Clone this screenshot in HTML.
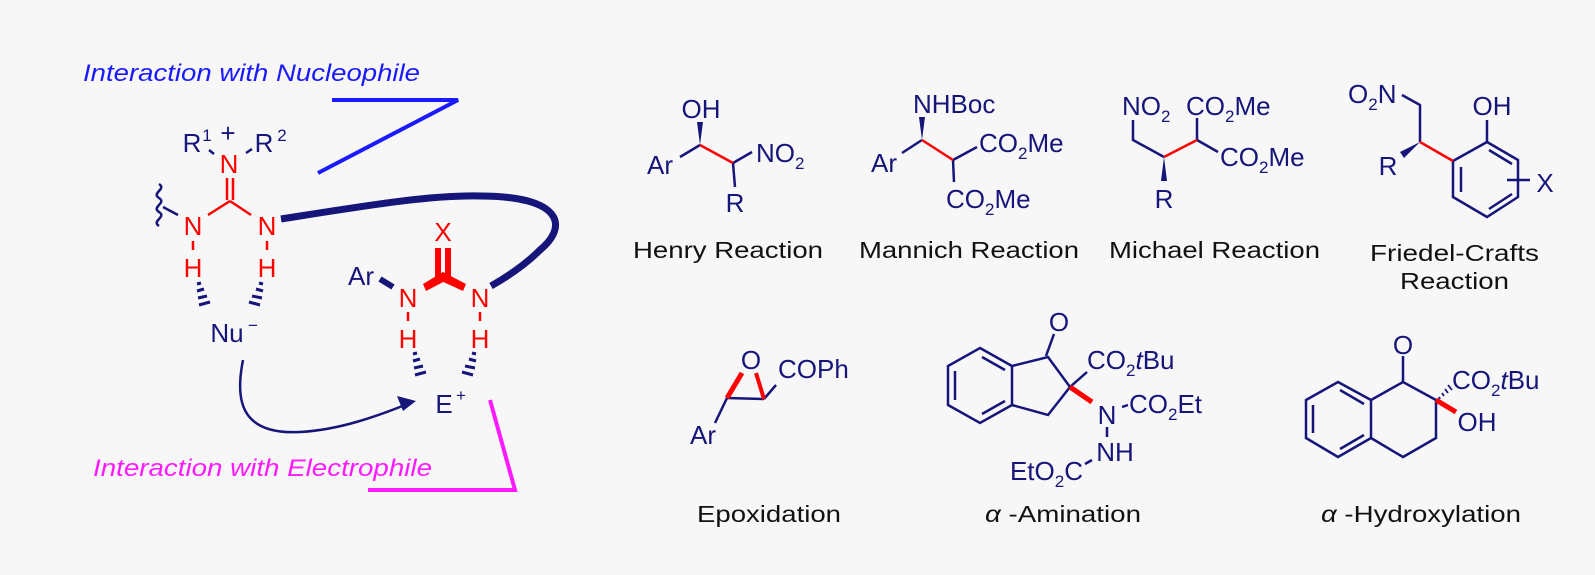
<!DOCTYPE html>
<html><head><meta charset="utf-8"><style>
html,body{margin:0;padding:0;background:#f7f7f7}
svg{display:block}
text{font-family:"Liberation Sans",sans-serif}
.n{fill:#15157a;font-size:26px}
.r{fill:#ff0000;font-size:26px}
.l{fill:#111;font-size:23px}
.s{font-size:17px}
</style></head><body>
<svg width="1595" height="575" viewBox="0 0 1595 575" xmlns="http://www.w3.org/2000/svg">
<rect width="1595" height="575" fill="#f7f7f7"/>
<g stroke-linecap="butt" fill="none">
<polyline points="332,100 458,100 318,173" stroke="#1a1aff" stroke-width="4"/>
<polyline points="490,400 515,490 368,490" stroke="#ff1aff" stroke-width="4"/>
<path d="M281,219 C370,205 430,195 480,196 C560,196 570,225 540,250 C525,265 505,278 491,286" stroke="#15157a" stroke-width="7"/>
<path d="M159,184 c8,5 -8,9 0,14 c8,5 -8,9 0,14 c8,5 -8,9 0,14" stroke="#15157a" stroke-width="2.5"/>
<line x1="163" y1="207" x2="178" y2="215" stroke="#15157a" stroke-width="2.5"/>
<line x1="209" y1="150" x2="214" y2="154" stroke="#15157a" stroke-width="2.5"/>
<line x1="246" y1="153" x2="252" y2="149" stroke="#15157a" stroke-width="2.5"/>
<g stroke="#ff0000" stroke-width="2.5">
<line x1="227" y1="178" x2="227" y2="200"/><line x1="233" y1="178" x2="233" y2="200"/>
<line x1="230" y1="201" x2="208" y2="215"/><line x1="230" y1="201" x2="251" y2="215"/>
<line x1="193" y1="241" x2="193" y2="250"/><line x1="267" y1="241" x2="267" y2="250"/>
<line x1="408" y1="312" x2="408" y2="321"/><line x1="480" y1="312" x2="480" y2="321"/>
</g>
<g stroke="#15157a" stroke-width="3">
<line x1="197" y1="284" x2="201" y2="283"/><line x1="197" y1="291" x2="204" y2="289"/><line x1="198" y1="298" x2="207" y2="296"/><line x1="199" y1="305" x2="210" y2="302"/>
<line x1="259" y1="283" x2="263" y2="284"/><line x1="256" y1="289" x2="263" y2="291"/><line x1="252" y1="296" x2="262" y2="298"/><line x1="249" y1="302" x2="260" y2="305"/>
<line x1="413" y1="354" x2="417" y2="353"/><line x1="413" y1="361" x2="420" y2="359"/><line x1="414" y1="368" x2="423" y2="366"/><line x1="415" y1="375" x2="426" y2="372"/>
<line x1="472" y1="353" x2="476" y2="354"/><line x1="469" y1="359" x2="476" y2="361"/><line x1="465" y1="366" x2="475" y2="368"/><line x1="462" y1="372" x2="473" y2="375"/>
</g>
<g stroke="#ff0000" stroke-width="6">
<line x1="438" y1="248" x2="438" y2="277"/><line x1="448" y1="248" x2="448" y2="277"/>
</g>
<polygon points="443,272 447,280 426,291 423,284" fill="#ff0000"/>
<polygon points="443,272 439,280 463,291 466,284" fill="#ff0000"/>
<line x1="380" y1="279" x2="393" y2="287" stroke="#15157a" stroke-width="6"/>
<path d="M243,360 C235,400 240,435 300,432 C340,430 380,415 405,405" stroke="#15157a" stroke-width="2.5"/>
<polygon points="416,401 397,396 403,411" fill="#15157a"/>
</g>
<text x="83" y="81" font-size="24" font-style="italic" fill="#1a1aff" textLength="337" lengthAdjust="spacingAndGlyphs">Interaction with Nucleophile</text>
<text x="93" y="476" font-size="24" font-style="italic" fill="#ff1aff" textLength="339" lengthAdjust="spacingAndGlyphs">Interaction with Electrophile</text>
<text class="n" x="192" y="152" text-anchor="middle">R</text><text class="n s" x="207" y="141" text-anchor="middle">1</text><text class="n" x="228" y="142" text-anchor="middle">+</text>
<text class="n" x="264" y="152" text-anchor="middle">R</text><text class="n s" x="282" y="141" text-anchor="middle">2</text>
<text class="r" x="229" y="173" text-anchor="middle">N</text>
<text class="r" x="193" y="235" text-anchor="middle">N</text><text class="r" x="267" y="235" text-anchor="middle">N</text>
<text class="r" x="193" y="277" text-anchor="middle">H</text><text class="r" x="267" y="277" text-anchor="middle">H</text>
<text class="n" x="227" y="342" text-anchor="middle">Nu</text><text class="n s" x="253" y="331" text-anchor="middle">−</text>
<text class="r" x="443" y="241" text-anchor="middle">X</text>
<text class="n" x="361" y="285" text-anchor="middle">Ar</text>
<text class="r" x="408" y="307" text-anchor="middle">N</text><text class="r" x="480" y="307" text-anchor="middle">N</text>
<text class="r" x="408" y="348" text-anchor="middle">H</text><text class="r" x="480" y="348" text-anchor="middle">H</text>
<text class="n" x="444" y="413" text-anchor="middle">E</text><text class="n s" x="461" y="401" text-anchor="middle">+</text>

<g stroke="#15157a" stroke-width="2.5" fill="none">
<polyline points="680,157 700,145"/><polyline points="733,163 752,152"/><line x1="733" y1="163" x2="735" y2="187"/>
<polyline points="902,153 922,140"/><polyline points="953,160 977,147"/><line x1="953" y1="160" x2="954" y2="182"/>
<polyline points="1133,120 1133,140 1164,157"/><polyline points="1197,140 1197,118"/><polyline points="1197,140 1218,152"/>
<polyline points="1402,95 1420,105 1420,142"/>
<polygon points="1453,161 1487,142 1518,160 1518,197 1487,217 1453,197"/>
<line x1="1461" y1="167" x2="1461" y2="192"/><line x1="1489" y1="150" x2="1512" y2="164"/><line x1="1489" y1="209" x2="1512" y2="194"/>
<line x1="1487" y1="142" x2="1487" y2="120"/><line x1="1507" y1="180" x2="1530" y2="180"/>
<line x1="727" y1="398" x2="764" y2="399"/><line x1="764" y1="399" x2="776" y2="385"/><line x1="727" y1="398" x2="715" y2="423"/>
<polygon points="980,348 1012,366 1012,405 980,423 948,405 948,366"/>
<line x1="955" y1="371" x2="955" y2="400"/><line x1="982" y1="357" x2="1005" y2="370"/><line x1="982" y1="414" x2="1005" y2="401"/>
<polyline points="1012,366 1048,357 1070,387 1048,415 1012,405"/>
<line x1="1046" y1="356" x2="1054" y2="334"/>
<line x1="1070" y1="387" x2="1087" y2="372"/>
<line x1="1122" y1="407" x2="1128" y2="405"/>
<line x1="1107" y1="427" x2="1107" y2="437"/>
<line x1="1085" y1="464" x2="1092" y2="460"/>
<polygon points="1338,382 1371,400 1371,438 1338,457 1306,438 1306,400"/>
<line x1="1313" y1="405" x2="1313" y2="433"/><line x1="1340" y1="390" x2="1364" y2="404"/><line x1="1340" y1="449" x2="1364" y2="435"/>
<polyline points="1371,400 1403,382 1436,400 1436,438 1403,457 1371,438"/>
<line x1="1403" y1="382" x2="1403" y2="356"/>
</g>
<g stroke="#ff0000" fill="none">
<line x1="700" y1="145" x2="733" y2="163" stroke-width="2.5"/>
<line x1="922" y1="140" x2="953" y2="160" stroke-width="2.5"/>
<line x1="1164" y1="157" x2="1197" y2="140" stroke-width="2.5"/>
<line x1="1420" y1="142" x2="1453" y2="161" stroke-width="2.5"/>
<line x1="727" y1="398" x2="742" y2="373" stroke-width="5"/>
<line x1="764" y1="399" x2="756" y2="373" stroke-width="4"/>
<line x1="1070" y1="387" x2="1092" y2="402" stroke-width="5"/>
<line x1="1436" y1="400" x2="1456" y2="412" stroke-width="5"/>
</g>
<g fill="#15157a">
<polygon points="700,145 697,122 703,122"/>
<polygon points="922,140 919,117 925,117"/>
<polygon points="1164,157 1161,181 1167,181"/>
<polygon points="1420,142 1400,152 1404,158"/>
</g>
<g stroke="#15157a" stroke-width="1.8">
<line x1="1439" y1="397" x2="1440" y2="399"/><line x1="1442" y1="393" x2="1444" y2="396"/><line x1="1445" y1="389" x2="1448" y2="393"/><line x1="1448" y1="385" x2="1452" y2="390"/>
</g>
<text class="n" x="701" y="118" text-anchor="middle">OH</text>
<text class="n" x="660" y="174" text-anchor="middle">Ar</text>
<text class="n" x="756" y="162">NO<tspan class="s" dy="7">2</tspan></text>
<text class="n" x="735" y="212" text-anchor="middle">R</text>
<text class="n" x="913" y="113">NHBoc</text>
<text class="n" x="884" y="172" text-anchor="middle">Ar</text>
<text class="n" x="979" y="152">CO<tspan class="s" dy="7">2</tspan><tspan dy="-7">Me</tspan></text>
<text class="n" x="946" y="208">CO<tspan class="s" dy="7">2</tspan><tspan dy="-7">Me</tspan></text>
<text class="n" x="1122" y="115">NO<tspan class="s" dy="7">2</tspan></text>
<text class="n" x="1186" y="115">CO<tspan class="s" dy="7">2</tspan><tspan dy="-7">Me</tspan></text>
<text class="n" x="1220" y="166">CO<tspan class="s" dy="7">2</tspan><tspan dy="-7">Me</tspan></text>
<text class="n" x="1164" y="208" text-anchor="middle">R</text>
<text class="n" x="1348" y="103">O<tspan class="s" dy="7">2</tspan><tspan dy="-7">N</tspan></text>
<text class="n" x="1492" y="115" text-anchor="middle">OH</text>
<text class="n" x="1388" y="175" text-anchor="middle">R</text>
<text class="n" x="1545" y="192" text-anchor="middle">X</text>
<text class="n" x="751" y="369" text-anchor="middle">O</text>
<text class="n" x="778" y="378">COPh</text>
<text class="n" x="703" y="444" text-anchor="middle">Ar</text>
<text class="n" x="1059" y="331" text-anchor="middle">O</text>
<text class="n" x="1087" y="369">CO<tspan class="s" dy="7">2</tspan><tspan dy="-7" font-style="italic">t</tspan>Bu</text>
<text class="n" x="1107" y="424" text-anchor="middle">N</text>
<text class="n" x="1129" y="413">CO<tspan class="s" dy="7">2</tspan><tspan dy="-7">Et</tspan></text>
<text class="n" x="1115" y="461" text-anchor="middle">NH</text>
<text class="n" x="1083" y="480" text-anchor="end">EtO<tspan class="s" dy="7">2</tspan><tspan dy="-7">C</tspan></text>
<text class="n" x="1403" y="354" text-anchor="middle">O</text>
<text class="n" x="1452" y="389">CO<tspan class="s" dy="7">2</tspan><tspan dy="-7" font-style="italic">t</tspan>Bu</text>
<text class="n" x="1477" y="431" text-anchor="middle">OH</text>
<text class="l" x="633" y="258" textLength="190" lengthAdjust="spacingAndGlyphs">Henry Reaction</text>
<text class="l" x="859" y="258" textLength="220" lengthAdjust="spacingAndGlyphs">Mannich Reaction</text>
<text class="l" x="1109" y="258" textLength="211" lengthAdjust="spacingAndGlyphs">Michael Reaction</text>
<text class="l" x="1370" y="261" textLength="169" lengthAdjust="spacingAndGlyphs">Friedel-Crafts</text>
<text class="l" x="1400" y="289" textLength="109" lengthAdjust="spacingAndGlyphs">Reaction</text>
<text class="l" x="697" y="522" textLength="144" lengthAdjust="spacingAndGlyphs">Epoxidation</text>
<text class="l" x="985" y="522" textLength="156" lengthAdjust="spacingAndGlyphs"><tspan font-style="italic">α</tspan> -Amination</text>
<text class="l" x="1321" y="522" textLength="200" lengthAdjust="spacingAndGlyphs"><tspan font-style="italic">α</tspan> -Hydroxylation</text>
</svg>
</body></html>
